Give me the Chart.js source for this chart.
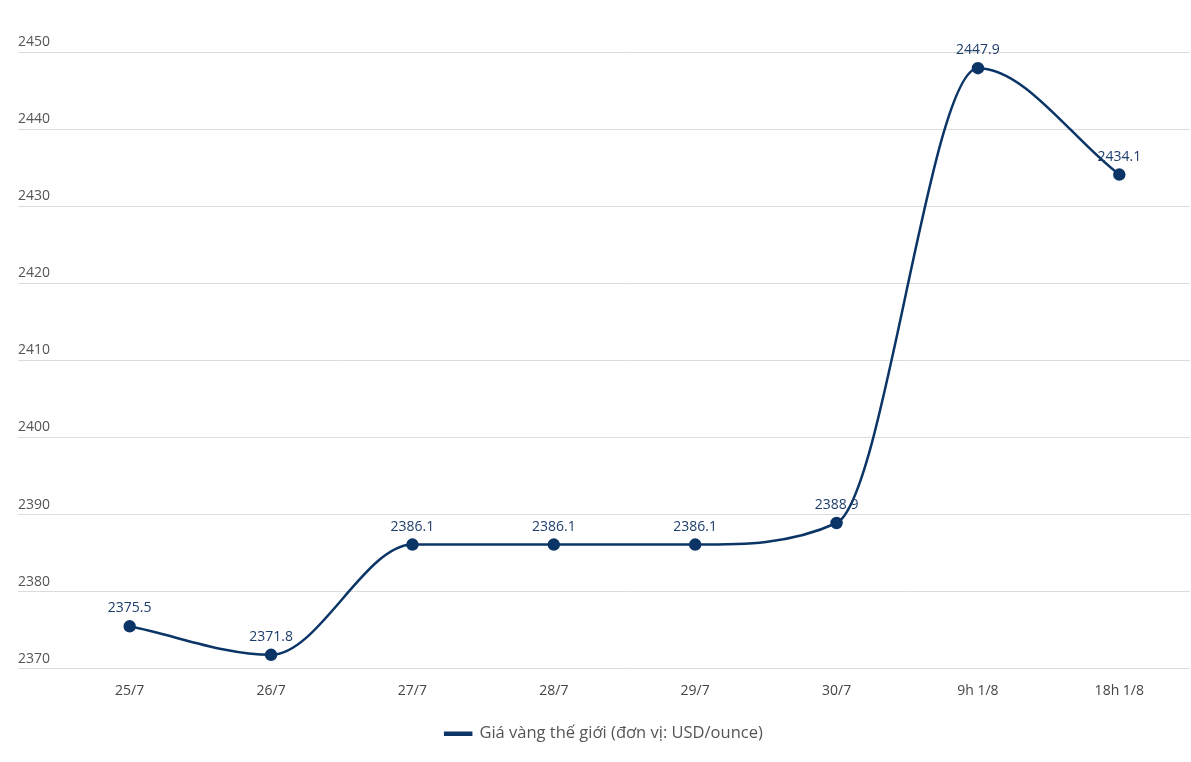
<!DOCTYPE html>
<html>
<head>
<meta charset="utf-8">
<script src="https://cdn.jsdelivr.net/npm/chart.js@4"></script>
<style>
  html, body { margin: 0; padding: 0; background: #fff; overflow: hidden; }
</style>
</head>
<body>
<canvas id="chart" width="1191" height="762"></canvas>
<script>
const categories = ['25/7', '26/7', '27/7', '28/7', '29/7', '30/7', '9h 1/8', '18h 1/8'];
const goldPrice = [2375.5, 2371.8, 2386.1, 2386.1, 2386.1, 2388.9, 2447.9, 2434.1];
const yTicks = [2370, 2380, 2390, 2400, 2410, 2420, 2430, 2440, 2450];
const seriesName = 'Giá vàng thế giới (đơn vị: USD/ounce)';

const lineColor = '#0b3566';
const fontFamily = "'Open Sans', 'Noto Sans', sans-serif";

// value labels above each point
const valueLabels = {
  id: 'valueLabels',
  afterDatasetsDraw(chart) {
    const ctx = chart.ctx;
    const meta = chart.getDatasetMeta(0);
    ctx.save();
    ctx.font = '14px ' + fontFamily;
    ctx.fillStyle = '#1d3d6b';
    ctx.textAlign = 'center';
    ctx.textBaseline = 'bottom';
    meta.data.forEach((pt, i) => {
      ctx.fillText(goldPrice[i].toFixed(1), pt.x, pt.y - 11);
    });
    ctx.restore();
  }
};

new Chart(document.getElementById('chart'), {
  type: 'line',
  data: {
    labels: categories,
    datasets: [{
      label: seriesName,
      data: goldPrice,
      borderColor: lineColor,
      backgroundColor: lineColor,
      borderWidth: 2.5,
      pointRadius: 5,
      pointHoverRadius: 5,
      pointBackgroundColor: lineColor,
      pointBorderColor: lineColor,
      cubicInterpolationMode: 'monotone',
      clip: false,
      fill: false
    }]
  },
  options: {
    responsive: false,
    animation: false,
    layout: { autoPadding: false, padding: { left: 18, right: 1, top: 52, bottom: 10 } },
    plugins: {
      tooltip: { enabled: false },
      legend: {
        position: 'bottom',
        labels: {
          color: '#555',
          boxWidth: 26,
          boxHeight: 2,
          padding: 20,
          font: { size: 16.5, family: fontFamily }
        }
      }
    },
    scales: {
      x: {
        offset: true,
        grid: { display: false },
        border: { display: false },
        ticks: {
          color: '#444',
          padding: 6,
          font: { size: 14, family: fontFamily }
        }
      },
      y: {
        min: 2370,
        max: 2450,
        afterBuildTicks(scale) {
          scale.ticks = yTicks.map(v => ({ value: v }));
        },
        afterFit(scale) {
          scale.width = 41;
        },
        border: { display: false },
        grid: {
          color: '#dcdcdc',
          lineWidth: 1,
          tickLength: 41
        },
        ticks: {
          color: '#555',
          crossAlign: 'far',
          labelOffset: -10,
          padding: 0,
          callback: v => String(v),
          font: { size: 14, family: fontFamily }
        }
      }
    }
  },
  plugins: [valueLabels]
});
</script>
</body>
</html>
